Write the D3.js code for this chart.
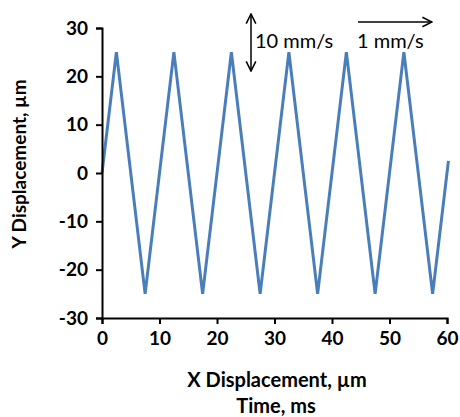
<!DOCTYPE html>
<html><head><meta charset="utf-8">
<script src="https://cdn.jsdelivr.net/npm/d3@7"></script>
<style>body{margin:0;background:#fff}</style>
</head><body>
<script>
const xValues = [0, 2.5, 7.5, 12.5, 17.5, 22.5, 27.5, 32.5, 37.5, 42.5, 47.5, 52.5, 57.5, 60.25];
const yValues = [0, 25, -25, 25, -25, 25, -25, 25, -25, 25, -25, 25, -25, 2.5];
const xTicks = [0, 10, 20, 30, 40, 50, 60];
const yTicks = [-30, -20, -10, 0, 10, 20, 30];
const xTitle = "X Displacement, µm";
const xTitle2 = "Time, ms";
const yTitle = "Y Displacement, µm";
const annotations = ["10 mm/s", "1 mm/s"];

const W = 460, H = 417;
const svg = d3.select("body").append("svg").attr("width", W).attr("height", H);
const defs = svg.append("defs");
defs.append("marker").attr("id","ah").attr("viewBox","0 0 10 10").attr("refX",9).attr("refY",5)
  .attr("markerWidth",8).attr("markerHeight",8).attr("orient","auto-start-reverse")
  .append("path").attr("d","M1,1 L9,5 L1,9").attr("fill","none").attr("stroke","#000").attr("stroke-width",1.3);

const x = d3.scaleLinear().domain([0, 60]).range([102, 447]);
const y = d3.scaleLinear().domain([-30, 30]).range([318, 28]);
const font = "Lato, 'Open Sans', sans-serif";

const data = xValues.map((v, i) => [v, yValues[i]]);
svg.append("path").datum(data)
  .attr("d", d3.line().x(d => x(d[0])).y(d => y(d[1])))
  .attr("fill", "none").attr("stroke", "#4a7ebb").attr("stroke-width", 3).attr("stroke-linejoin","miter");

const xAxis = svg.append("g").attr("transform", `translate(0,${y(-30)})`)
  .call(d3.axisBottom(x).tickValues(xTicks).tickSize(6).tickPadding(8).tickFormat(d => String(d)));
const yAxis = svg.append("g").attr("transform", `translate(${x(0)},0)`)
  .call(d3.axisLeft(y).tickValues(yTicks).tickSize(6).tickPadding(8).tickFormat(d => String(d)));
[xAxis, yAxis].forEach(g => {
  g.select(".domain").attr("stroke", "#000").attr("stroke-width", 2);
  g.selectAll(".tick line").attr("stroke", "#000").attr("stroke-width", 2);
  g.selectAll(".tick text").attr("fill", "#000").style("font-family", font)
    .style("font-size", "19px").style("font-weight", "bold");
});

svg.append("text").attr("x", 277).attr("y", 387).attr("text-anchor", "middle")
  .style("font-family", font).style("font-size", "20px").style("font-weight", "bold").text(xTitle);
svg.append("text").attr("x", 276).attr("y", 413).attr("text-anchor", "middle")
  .style("font-family", font).style("font-size", "20px").style("font-weight", "bold").text(xTitle2);
svg.append("text").attr("transform", "translate(26,164) rotate(-90)").attr("text-anchor", "middle")
  .style("font-family", font).style("font-size", "19px").style("font-weight", "bold").text(yTitle);

// annotations
svg.append("line").attr("x1", 251).attr("x2", 251).attr("y1", 14).attr("y2", 71)
  .attr("stroke", "#000").attr("stroke-width", 1.5)
  .attr("marker-start", "url(#ah)").attr("marker-end", "url(#ah)");
svg.append("text").attr("x", 255).attr("y", 48)
  .style("font-family", font).style("font-size", "20px").text(annotations[0]);
svg.append("line").attr("x1", 358).attr("x2", 432).attr("y1", 22).attr("y2", 22)
  .attr("stroke", "#000").attr("stroke-width", 1.5).attr("marker-end", "url(#ah)");
svg.append("text").attr("x", 357).attr("y", 48)
  .style("font-family", font).style("font-size", "20px").text(annotations[1]);
</script>
</body></html>
